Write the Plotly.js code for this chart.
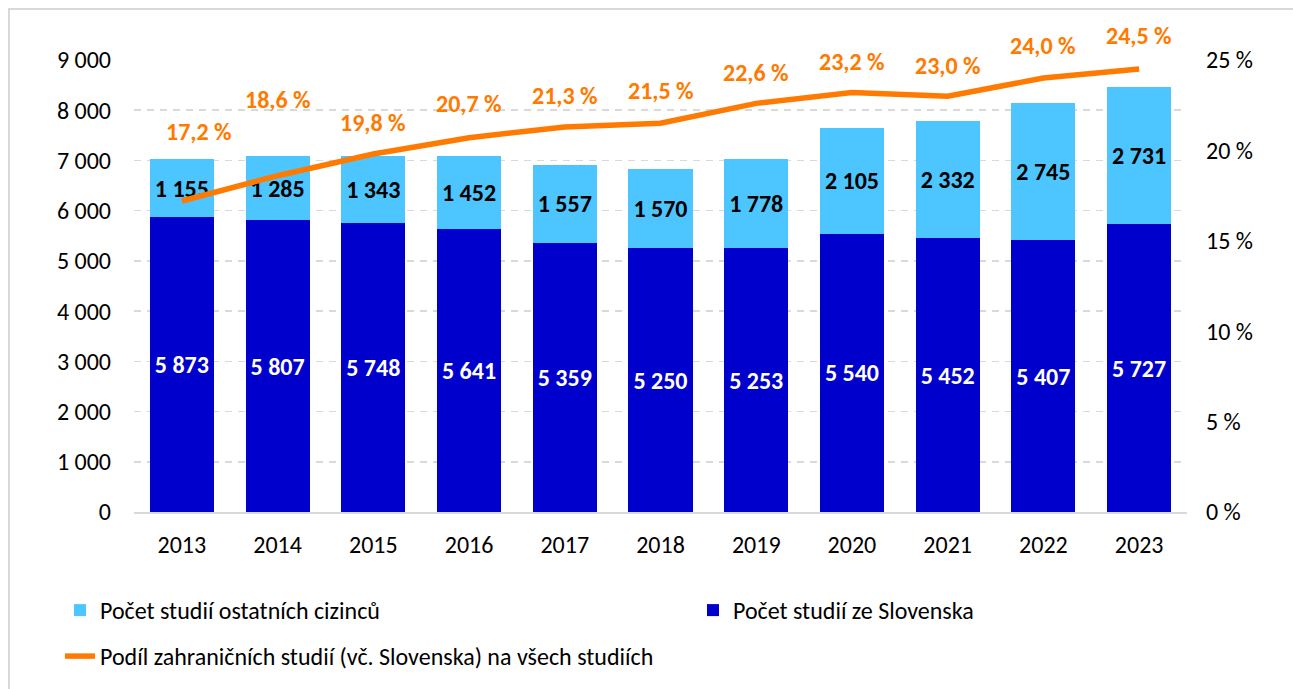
<!DOCTYPE html>
<html>
<head>
<meta charset="utf-8">
<script src="https://cdn.plot.ly/plotly-3.0.1.min.js"></script>
<style>
  html, body { margin: 0; padding: 0; background: #fff; }
  #wrap { position: relative; width: 1293px; height: 689px; overflow: hidden; }
  #chart { position: absolute; left: 0; top: 0; width: 1293px; height: 689px; }
  #frame { position: absolute; left: 8px; top: 8px; width: 1300px; height: 700px;
           border-left: 2px solid #d9d9d9; border-top: 2px solid #d9d9d9; pointer-events: none; }
</style>
</head>
<body>
<div id="wrap">
  <div id="chart"></div>
  <div id="frame"></div>
</div>
<script>
// ---- data ----
const years = ['2013','2014','2015','2016','2017','2018','2019','2020','2021','2022','2023'];
const slovakia = [5873, 5807, 5748, 5641, 5359, 5250, 5253, 5540, 5452, 5407, 5727];
const others = [1155, 1285, 1343, 1452, 1557, 1570, 1778, 2105, 2332, 2745, 2731];
const share = [17.2, 18.6, 19.8, 20.7, 21.3, 21.5, 22.6, 23.2, 23.0, 24.0, 24.5];
const seriesNames = ['Počet studií ostatních cizinců', 'Počet studií ze Slovenska',
                     'Podíl zahraničních studií (vč. Slovenska) na všech studiích'];
const leftTicks = [0, 1000, 2000, 3000, 4000, 5000, 6000, 7000, 8000, 9000];
const rightTicks = [0, 5, 10, 15, 20, 25];
const rightTickLabels = ['0 %', '5 %', '10 %', '15 %', '20 %', '25 %'];

// ---- label placement styles (pixel offsets) ----
const labelDy = [70, 76, 32, 34, 31, 33, 31, 31, 31, 33, 34];
const labelDx = [17, 0, 0, 0, 0, 0, 0, 0, 0, 0, 0];

const FONT = "Carlito, Calibri, Lato, sans-serif";
const FS = 24;
const DARK = '#0000CC';
const LIGHT = '#4DC6FF';
const ORANGE = '#FF7A00';

const traces = [
  {
    type: 'bar', x: years, y: slovakia, name: seriesNames[1],
    marker: { color: DARK }, legend: 'legend2',
    texttemplate: '%{y:,d}', textposition: 'inside', insidetextanchor: 'middle',
    textangle: 0,
    textfont: { family: FONT, size: FS, color: '#ffffff', weight: 'bold' },
    hoverinfo: 'skip'
  },
  {
    type: 'bar', x: years, y: others, name: seriesNames[0],
    marker: { color: LIGHT }, legend: 'legend',
    texttemplate: '%{y:,d}', textposition: 'inside', insidetextanchor: 'middle',
    textangle: 0,
    textfont: { family: FONT, size: FS, color: '#000000', weight: 'bold' },
    hoverinfo: 'skip'
  },
  {
    type: 'scatter', mode: 'lines', x: years, y: share, yaxis: 'y2', name: seriesNames[2],
    line: { color: ORANGE, width: 5.5, shape: 'linear' }, legend: 'legend3',
    hoverinfo: 'skip'
  }
];

// category index i is the position of years[i] on the category axis
const annotations = share.map((v, i) => ({
  x: i, y: v, xref: 'x', yref: 'y2',
  text: v.toFixed(1).replace('.', ',') + ' %',
  showarrow: false, yshift: labelDy[i], xshift: labelDx[i],
  font: { family: FONT, size: FS, color: ORANGE, weight: 'bold' }
}));

const legendBase = {
  orientation: 'h', xref: 'container', yref: 'container',
  xanchor: 'left', yanchor: 'top',
  font: { family: FONT, size: FS, color: '#000' }, bgcolor: 'rgba(0,0,0,0)'
};

const layout = {
  width: 1293, height: 689,
  margin: { l: 134, r: 106, t: 60, b: 177 },
  paper_bgcolor: '#ffffff', plot_bgcolor: '#ffffff',
  separators: ', ',
  barmode: 'stack', bargap: 0.33,
  font: { family: FONT, size: FS, color: '#000000' },
  xaxis: {
    type: 'category', range: [-0.5, years.length - 0.5], autorange: false,
    showgrid: false, ticks: '', showline: true,
    linecolor: '#d9d9d9', linewidth: 2, ticklabelstandoff: 10,
    tickfont: { family: FONT, size: FS, color: '#000' }
  },
  yaxis: {
    range: [0, 9000], autorange: false, tickvals: leftTicks, tickformat: ',d',
    showgrid: true, gridcolor: '#d9d9d9', gridwidth: 1.5, griddash: '7px,6px',
    zeroline: false, showline: false, ticks: '', ticklabelstandoff: 22,
    tickfont: { family: FONT, size: FS, color: '#000' }
  },
  yaxis2: {
    overlaying: 'y', side: 'right', range: [0, 25], autorange: false,
    tickmode: 'array', tickvals: rightTicks, ticktext: rightTickLabels,
    showgrid: false, zeroline: false, showline: false, ticks: '',
    ticklabelstandoff: 18,
    tickfont: { family: FONT, size: FS, color: '#000' }
  },
  legend: Object.assign({}, legendBase, { x: 60 / 1293, y: 1 - 588 / 689 }),
  legend2: Object.assign({}, legendBase, { x: 693 / 1293, y: 1 - 588 / 689 }),
  legend3: Object.assign({}, legendBase, { x: 60 / 1293, y: 1 - 634 / 689 }),
  annotations: annotations,
  showlegend: true
};

Plotly.newPlot('chart', traces, layout, { displayModeBar: false, staticPlot: true });
</script>
</body>
</html>
